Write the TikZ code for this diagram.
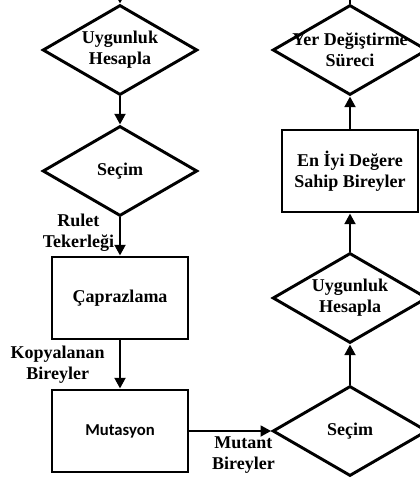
\documentclass[tikz,border=0pt]{standalone}
\usepackage{fontspec}
\setmainfont{Liberation Serif}
\newfontfamily\calibrifont{Carlito}
\usetikzlibrary{shapes.geometric,arrows.meta}

\begin{document}
\begin{tikzpicture}[x=0.75pt,y=-0.75pt,line width=2.2pt,
    font=\fontsize{13.5}{15.75}\selectfont\bfseries,
    dia/.style={draw,diamond,shape aspect=1.72,inner sep=0pt,minimum width=116pt,minimum height=67.5pt,align=center},
    box/.style={draw,rectangle,minimum width=102pt,minimum height=61.5pt,align=center},
    arr/.style={-{Triangle[length=8pt,width=8pt]}}]
  \useasboundingbox (0,0) rectangle (419,484);
  % left column
  \coordinate (giris) at (120,-15);
  \node[dia] (uyg1) at (120,50) {Uygunluk\\Hesapla};
  \node[dia] (secim1) at (120,171) {Seçim};
  \node[box] (capraz) at (120,298) {Çaprazlama};
  \node[box,font=\fontsize{12.5}{15}\calibrifont\bfseries] (mut) at (120,431) {Mutasyon};
  % right column
  \node[dia] (secim2) at (350,431) {Seçim};
  \node[dia] (uyg2) at (350,298) {Uygunluk\\Hesapla};
  \node[box] (eniyi) at (350,171) {En İyi Değere\\Sahip Bireyler};
  \node[dia] (yer) at (350,50) {\makebox[1.4cm]{Yer Değiştirme}\\Süreci};
  \coordinate (cikis) at (350,-15);
  % connectors
  \draw[arr] (giris) -- (uyg1);
  \draw[arr] (uyg1) -- (secim1);
  \draw[arr] (secim1) -- node[left,pos=0.4,align=center] (rulet) {Rulet\\Tekerleği} (capraz);
  \draw[arr] (capraz) -- node[left,pos=0.5,align=center,xshift=-7pt] (kopya) {Kopyalanan\\Bireyler} (mut);
  \draw[arr] (mut) -- node[below,pos=0.66,align=center] (mutant) {Mutant\\Bireyler} (secim2);
  \draw[arr] (secim2) -- (uyg2);
  \draw[arr] (uyg2) -- (eniyi);
  \draw[arr] (eniyi) -- (yer);
  \draw (yer) -- (cikis);
\end{tikzpicture}
\end{document}
